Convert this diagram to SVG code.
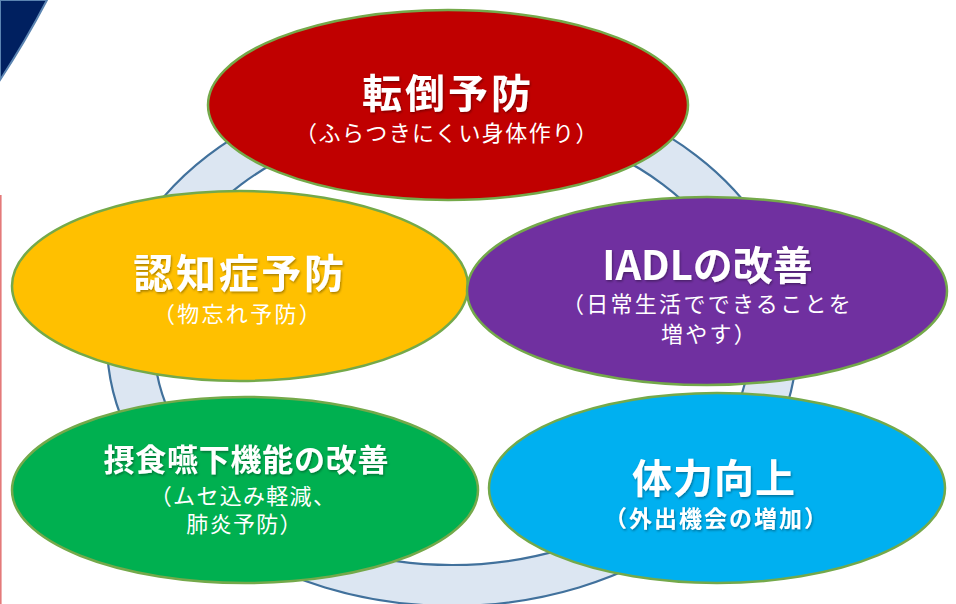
<svg xmlns="http://www.w3.org/2000/svg" width="956" height="604" viewBox="0 0 956 604">
<defs>
<style>
.node{stroke:#74a94a;stroke-width:2.5}
.t{font-family:"Noto Sans CJK JP","Noto Sans",sans-serif;fill:#ffffff;text-anchor:middle}
.h{font-weight:bold;font-size:40px}
.s{font-weight:normal;font-size:22px}
.ring{fill:#dce6f2;stroke:#41719c;stroke-width:2.2;fill-rule:evenodd}
</style>
<filter id="sh" x="-10%" y="-20%" width="120%" height="140%">
<feDropShadow dx="1" dy="1.5" stdDeviation="0.8" flood-color="#000000" flood-opacity="0.35"/>
</filter>
</defs>
<rect width="956" height="604" fill="#ffffff"/>
<path d="M0,0 L47,0 Q25,42 0,80 Z" fill="#002060" stroke="#5b84b1" stroke-width="2"/>
<line x1="0.8" y1="195" x2="0.8" y2="604" stroke="#e47a7a" stroke-width="1.6"/>
<g id="connectors">
<path class="ring" d="M107,342 A345,264 0 1 0 797,342 A345,264 0 1 0 107,342 Z M154,342 A298,223 0 1 0 750,342 A298,223 0 1 0 154,342 Z"/>
</g>
<g id="node-tento">
<ellipse class="node" cx="448" cy="105" rx="240" ry="95" fill="#c00000"/>
<text class="t h" x="448" y="108" style="letter-spacing:3px" filter="url(#sh)">転倒予防</text>
<text class="t s" x="447" y="140.5" style="letter-spacing:1.4px">（ふらつきにくい身体作り）</text>
</g>
<g id="node-ninchi">
<ellipse class="node" cx="240" cy="286" rx="228" ry="95" fill="#ffc000"/>
<text class="t h" x="240" y="288" style="letter-spacing:2.7px" filter="url(#sh)">認知症予防</text>
<text class="t s" x="238" y="321.5" style="letter-spacing:2.3px">（物忘れ予防）</text>
</g>
<g id="node-iadl">
<ellipse class="node" cx="707" cy="291" rx="240" ry="94" fill="#7030a0"/>
<text class="t h" x="707.5" y="280" filter="url(#sh)">IADLの改善</text>
<text class="t s" x="707.5" y="312" style="letter-spacing:2.3px">（日常生活でできることを</text>
<text class="t s" x="709.5" y="341.5" style="letter-spacing:2.3px">増やす）</text>
</g>
<g id="node-sesshoku">
<ellipse class="node" cx="245" cy="490" rx="233" ry="93" fill="#00b050"/>
<text class="t" x="246.4" y="471" font-size="31" font-weight="bold" style="letter-spacing:0.75px" filter="url(#sh)">摂食嚥下機能の改善</text>
<text class="t s" x="243" y="504" style="letter-spacing:1.3px">（ムセ込み軽減、</text>
<text class="t s" x="244.6" y="531.5" style="letter-spacing:1.3px">肺炎予防）</text>
</g>
<g id="node-tairyoku">
<ellipse class="node" cx="717" cy="488" rx="228" ry="95" fill="#00b0f0"/>
<text class="t h" x="714" y="493" style="letter-spacing:1px" filter="url(#sh)">体力向上</text>
<text class="t" x="716.5" y="527" font-size="23" font-weight="bold" style="letter-spacing:2px" filter="url(#sh)">（外出機会の増加）</text>
</g>
</svg>
